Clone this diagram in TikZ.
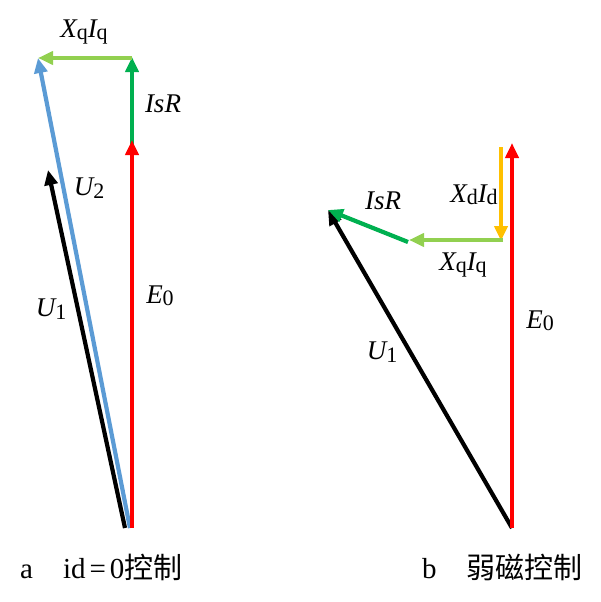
\documentclass[tikz,border=0pt]{standalone}
\usepackage{fontspec}
\setmainfont{Liberation Serif}
\newfontfamily\cjk{Noto Sans CJK SC}
\usetikzlibrary{arrows.meta}
\definecolor{vred}{RGB}{255,0,0}
\definecolor{vgreen}{RGB}{0,176,80}
\definecolor{vlime}{RGB}{146,208,80}
\definecolor{vblue}{RGB}{91,155,213}
\definecolor{vorange}{RGB}{255,192,0}
\newcommand{\lowsub}[1]{\raisebox{-0.2ex}{\fontsize{22}{22}\selectfont #1}}
\tikzset{
  vec/.style={line width=4.2, -{Triangle[length=15,width=13]}},
  lab/.style={font=\fontsize{27}{27}\selectfont\itshape, inner sep=0},
  captext/.style={font=\fontsize{29}{29}\selectfont, anchor=base west, inner sep=0}
}
\begin{document}
\begin{tikzpicture}[x=1pt,y=1pt,yscale=-1,xscale=1]
\useasboundingbox (0,0) rectangle (600,602);
% a: id = 0
\coordinate (aO) at (132,528);
\coordinate (aE) at (132,140);
\coordinate (aR0) at (132,144);
\coordinate (aR) at (132,57);
\coordinate (aQ0) at (132,58);
\coordinate (aQ) at (38,58);
\coordinate (aB) at (130,528);
\coordinate (aK) at (125,528);
\coordinate (aU) at (48,170);
\draw [vec, vblue] (aB) -- (aQ);
\draw [vec, black] (aK) -- (aU);
\draw [vec, vgreen] (aR0) -- (aR);
\draw [vec, vred] (aO) -- (aE);
\draw [vec, vlime] (aQ0) -- (aQ);
\node [lab] (aXq) at (84,32) {X\lowsub{\upshape q}I\lowsub{\upshape q}};
\node [lab] (aIR) at (163,104) {IsR};
\node [lab] (aU2) at (89,188) {U\lowsub{\upshape 2}};
\node [lab] (aU1) at (51,309) {U\lowsub{\upshape 1}};
\node [lab] (aE0) at (160,296) {E\lowsub{\upshape 0}};
% b: field weakening
\coordinate (bO) at (512,528);
\coordinate (bE) at (512,143);
\coordinate (bD0) at (501,147);
\coordinate (bD) at (501,241);
\coordinate (bQ0) at (503,240);
\coordinate (bQ) at (409,240);
\coordinate (bR0) at (408,242);
\coordinate (bR) at (328,210);
\draw [vec, black] (bO) -- (bR);
\draw [vec, vred] (bO) -- (bE);
\draw [vec, vorange] (bD0) -- (bD);
\draw [vec, vlime] (bQ0) -- (bQ);
\draw [vec, vgreen] (bR0) -- (bR);
\node [lab] (bXd) at (474,195) {X\lowsub{\upshape d}I\lowsub{\upshape d}};
\node [lab] (bIR) at (383,201) {IsR};
\node [lab] (bXq) at (463,265) {X\lowsub{\upshape q}I\lowsub{\upshape q}};
\node [lab] (bE0) at (540,321) {E\lowsub{\upshape 0}};
\node [lab] (bU1) at (382,352) {U\lowsub{\upshape 1}};
% captions
\node [captext] (capA) at (20,578) {a\hspace{30pt}id\hspace{4pt}=\hspace{4pt}0{\cjk 控制}};
\node [captext] (capB) at (422,578) {b\hspace{30pt}{\cjk 弱磁控制}};
\end{tikzpicture}
\end{document}
